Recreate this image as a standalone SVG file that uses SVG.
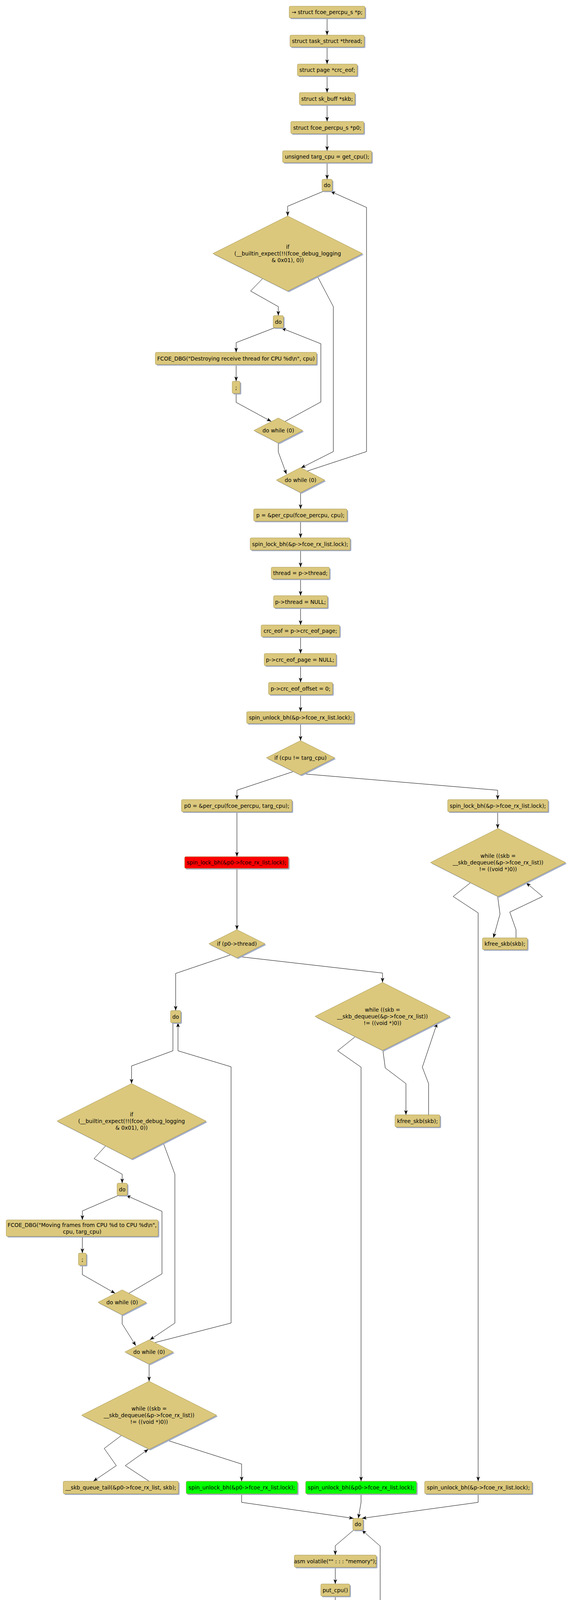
<svg xmlns="http://www.w3.org/2000/svg" width="1468" height="4627" viewBox="0 0 1468 4627">
<defs>
<style>
.b{fill:#dbc87d;stroke:#a8974f;stroke-width:1}
.r{fill:#ff0000;stroke:#a8974f;stroke-width:1}
.g{fill:#00ff00;stroke:#a8974f;stroke-width:1}
.s{fill:#a3adc8;stroke:none}
text{font-family:"DejaVu Sans","Liberation Sans",sans-serif;font-size:13.7px;text-anchor:middle;fill:#000}
#edges polyline{fill:none;stroke:#000;stroke-width:1;marker-end:url(#a)}
</style>
<marker id="a" markerUnits="userSpaceOnUse" markerWidth="13" markerHeight="10" refX="12" refY="4.5" orient="auto"><path d="M0,0 L12,4.5 L0,9 L3,4.5 z" fill="#000"/></marker>
</defs>
<rect width="1468" height="4627" fill="#fff"/>
<g id="edges">
<polyline points="838,46 838,90"/>
<polyline points="838,120 838,164"/>
<polyline points="838,194 838,237"/>
<polyline points="838,268 838,311"/>
<polyline points="838,342 838,386"/>
<polyline points="838,416 838,459"/>
<polyline points="830,489 737,528 737,553"/>
<polyline points="673,713 642,745 713,785 713,808"/>
<polyline points="704,839 605,877 605,902"/>
<polyline points="605,933 605,976"/>
<polyline points="605,1007 605,1030 695,1079"/>
<polyline points="730,1079 822,1029 822,880 721,840"/>
<polyline points="713,1134 713,1157 734,1214"/>
<polyline points="813,707 854,785 854,1156 771,1198"/>
<polyline points="787,1206 939,1156 939,531 847,490"/>
<polyline points="770,1261 770,1303"/>
<polyline points="770,1334 770,1377"/>
<polyline points="770,1408 770,1452"/>
<polyline points="770,1482 770,1525"/>
<polyline points="770,1556 770,1600"/>
<polyline points="770,1630 770,1673"/>
<polyline points="770,1704 770,1747"/>
<polyline points="770,1778 770,1822"/>
<polyline points="770,1852 770,1896"/>
<polyline points="752,1975 607,2023 607,2047"/>
<polyline points="777,1981 1275,2023 1275,2047"/>
<polyline points="607,2078 607,2193"/>
<polyline points="607,2223 607,2380"/>
<polyline points="1275,2078 1275,2121"/>
<polyline points="1275,2295 1281,2340 1264,2401"/>
<polyline points="1322,2401 1322,2380 1306,2335 1390,2295 1348,2260"/>
<polyline points="1205,2260 1161,2295 1225,2337 1225,3792"/>
<polyline points="592,2444 450,2492 450,2587"/>
<polyline points="613,2449 980,2491 980,2515"/>
<polyline points="981,2689 987,2734 1040,2774 1040,2854"/>
<polyline points="1098,2854 1098,2774 1082,2732 1120,2619"/>
<polyline points="910,2654 865,2690 925,2732 925,3792"/>
<polyline points="443,2618 443,2690 337,2729 337,2774"/>
<polyline points="271,2933 241,2966 313,3006 313,3029"/>
<polyline points="418,2925 448,3006 448,3387 384,3430"/>
<polyline points="304,3060 211,3100 211,3123"/>
<polyline points="211,3165 211,3208"/>
<polyline points="211,3239 211,3263 295,3311"/>
<polyline points="330,3311 415,3261 415,3101 323,3060"/>
<polyline points="313,3366 313,3389 348,3445"/>
<polyline points="397,3437 592,3387 592,2731 456,2690 456,2618"/>
<polyline points="382,3492 382,3536"/>
<polyline points="312,3674 267,3708 298,3752 239,3792"/>
<polyline points="382,3792 321,3752 380,3710"/>
<polyline points="428,3687 619,3748 619,3792"/>
<polyline points="619,3824 619,3846 906,3887"/>
<polyline points="925,3824 925,3846 918,3887"/>
<polyline points="1225,3824 1225,3846 927,3887"/>
<polyline points="906,3917 859,3957 859,3981"/>
<polyline points="859,4012 859,4055"/>
<polyline points="859,4086 859,4109 889,4163"/>
<polyline points="941,4162 974,4108 974,3958 927,3917"/>
<polyline points="916,4213 916,4257"/>
<polyline points="894,4302 864,4352 864,4376"/>
<polyline points="939,4301 968,4353 968,4428 945,4485"/>
<polyline points="864,4407 864,4430 889,4485"/>
<polyline points="916,4538 916,4581"/>
</g>
<g id="n1"><rect class="s" x="744" y="19" width="194" height="30" rx="3"/><rect class="b" x="741" y="16" width="194" height="30" rx="3"/><text x="838" y="36">→ struct fcoe_percpu_s *p;</text></g>
<g id="n2"><rect class="s" x="746" y="93" width="190" height="30" rx="3"/><rect class="b" x="743" y="90" width="190" height="30" rx="3"/><text x="838" y="110">struct task_struct *thread;</text></g>
<g id="n3"><rect class="s" x="765" y="167" width="153" height="30" rx="3"/><rect class="b" x="762" y="164" width="153" height="30" rx="3"/><text x="838.5" y="184">struct page *crc_eof;</text></g>
<g id="n4"><rect class="s" x="770" y="240" width="142" height="31" rx="3"/><rect class="b" x="767" y="237" width="142" height="31" rx="3"/><text x="838" y="257.5">struct sk_buff *skb;</text></g>
<g id="n5"><rect class="s" x="748" y="314" width="187" height="31" rx="3"/><rect class="b" x="745" y="311" width="187" height="31" rx="3"/><text x="838.5" y="331.5">struct fcoe_percpu_s *p0;</text></g>
<g id="n6"><rect class="s" x="727" y="389" width="228" height="30" rx="3"/><rect class="b" x="724" y="386" width="228" height="30" rx="3"/><text x="838" y="406">unsigned targ_cpu = get_cpu();</text></g>
<g id="n7"><rect class="s" x="828" y="462" width="26" height="30" rx="3"/><rect class="b" x="825" y="459" width="26" height="30" rx="3"/><text x="838" y="479">do</text></g>
<g id="n8"><polygon class="s" points="740,556 931.5,652 740,748 548.5,652"/><polygon class="b" points="737,553 928.5,649 737,745 545.5,649"/><text x="737" y="637">if</text><text x="737" y="654">(__builtin_expect(!!(fcoe_debug_logging</text><text x="737" y="671">&amp; 0x01), 0))</text></g>
<g id="n9"><rect class="s" x="703" y="811" width="26" height="31" rx="3"/><rect class="b" x="700" y="808" width="26" height="31" rx="3"/><text x="713" y="828.5">do</text></g>
<g id="n10"><rect class="s" x="401" y="905" width="413" height="31" rx="3"/><rect class="b" x="398" y="902" width="413" height="31" rx="3"/><text x="604.5" y="922.5">FCOE_DBG("Destroying receive thread for CPU %d\n", cpu)</text></g>
<g id="n11"><rect class="s" x="598" y="979" width="20" height="31" rx="3"/><rect class="b" x="595" y="976" width="20" height="31" rx="3"/><text x="605" y="996.5">;</text></g>
<g id="n12"><polygon class="s" points="716,1073 778.5,1105 716,1137 653.5,1105"/><polygon class="b" points="713,1070 775.5,1102 713,1134 650.5,1102"/><text x="713" y="1107">do while (0)</text></g>
<g id="n13"><polygon class="s" points="773,1200 835,1232 773,1264 711,1232"/><polygon class="b" points="770,1197 832,1229 770,1261 708,1229"/><text x="770" y="1234">do while (0)</text></g>
<g id="n14"><rect class="s" x="653" y="1306" width="239" height="31" rx="3"/><rect class="b" x="650" y="1303" width="239" height="31" rx="3"/><text x="769.5" y="1323.5">p = &amp;per_cpu(fcoe_percpu, cpu);</text></g>
<g id="n15"><rect class="s" x="644" y="1380" width="256" height="31" rx="3"/><rect class="b" x="641" y="1377" width="256" height="31" rx="3"/><text x="769" y="1397.5">spin_lock_bh(&amp;p-&gt;fcoe_rx_list.lock);</text></g>
<g id="n16"><rect class="s" x="698" y="1455" width="149" height="30" rx="3"/><rect class="b" x="695" y="1452" width="149" height="30" rx="3"/><text x="769.5" y="1472">thread = p-&gt;thread;</text></g>
<g id="n17"><rect class="s" x="704" y="1528" width="138" height="31" rx="3"/><rect class="b" x="701" y="1525" width="138" height="31" rx="3"/><text x="770" y="1545.5">p-&gt;thread = NULL;</text></g>
<g id="n18"><rect class="s" x="672" y="1603" width="201" height="30" rx="3"/><rect class="b" x="669" y="1600" width="201" height="30" rx="3"/><text x="769.5" y="1620">crc_eof = p-&gt;crc_eof_page;</text></g>
<g id="n19"><rect class="s" x="680" y="1676" width="184" height="31" rx="3"/><rect class="b" x="677" y="1673" width="184" height="31" rx="3"/><text x="769" y="1693.5">p-&gt;crc_eof_page = NULL;</text></g>
<g id="n20"><rect class="s" x="691" y="1750" width="164" height="31" rx="3"/><rect class="b" x="688" y="1747" width="164" height="31" rx="3"/><text x="770" y="1767.5">p-&gt;crc_eof_offset = 0;</text></g>
<g id="n21"><rect class="s" x="635" y="1825" width="275" height="30" rx="3"/><rect class="b" x="632" y="1822" width="275" height="30" rx="3"/><text x="769.5" y="1842">spin_unlock_bh(&amp;p-&gt;fcoe_rx_list.lock);</text></g>
<g id="n22"><polygon class="s" points="773,1899 860.5,1943 773,1987 685.5,1943"/><polygon class="b" points="770,1896 857.5,1940 770,1984 682.5,1940"/><text x="770" y="1945">if (cpu != targ_cpu)</text></g>
<g id="n23"><rect class="s" x="468" y="2050" width="283" height="31" rx="3"/><rect class="b" x="465" y="2047" width="283" height="31" rx="3"/><text x="606.5" y="2067.5">p0 = &amp;per_cpu(fcoe_percpu, targ_cpu);</text></g>
<g id="n24"><rect class="s" x="1150" y="2050" width="257" height="31" rx="3"/><rect class="b" x="1147" y="2047" width="257" height="31" rx="3"/><text x="1275.5" y="2067.5">spin_lock_bh(&amp;p-&gt;fcoe_rx_list.lock);</text></g>
<g id="n25"><rect class="s" x="476" y="2196" width="266" height="30" rx="3"/><rect class="r" x="473" y="2193" width="266" height="30" rx="3"/><text x="606" y="2213">spin_lock_bh(&amp;p0-&gt;fcoe_rx_list.lock);</text></g>
<g id="n26"><polygon class="s" points="1279,2124 1452,2211 1279,2298 1106,2211"/><polygon class="b" points="1276,2121 1449,2208 1276,2295 1103,2208"/><text x="1276" y="2196">while ((skb =</text><text x="1276" y="2213">__skb_dequeue(&amp;p-&gt;fcoe_rx_list))</text><text x="1276" y="2230">!= ((void *)0))</text></g>
<g id="n27"><rect class="s" x="1239" y="2404" width="115" height="30" rx="3"/><rect class="b" x="1236" y="2401" width="115" height="30" rx="3"/><text x="1293.5" y="2421">kfree_skb(skb);</text></g>
<g id="n28"><polygon class="s" points="610,2383 682,2419 610,2455 538,2419"/><polygon class="b" points="607,2380 679,2416 607,2452 535,2416"/><text x="607" y="2421">if (p0-&gt;thread)</text></g>
<g id="n29"><polygon class="s" points="983,2518 1156,2605 983,2692 810,2605"/><polygon class="b" points="980,2515 1153,2602 980,2689 807,2602"/><text x="980" y="2590">while ((skb =</text><text x="980" y="2607">__skb_dequeue(&amp;p-&gt;fcoe_rx_list))</text><text x="980" y="2624">!= ((void *)0))</text></g>
<g id="n30"><rect class="s" x="440" y="2590" width="26" height="31" rx="3"/><rect class="b" x="437" y="2587" width="26" height="31" rx="3"/><text x="450" y="2607.5">do</text></g>
<g id="n31"><rect class="s" x="1015" y="2857" width="115" height="31" rx="3"/><rect class="b" x="1012" y="2854" width="115" height="31" rx="3"/><text x="1069.5" y="2874.5">kfree_skb(skb);</text></g>
<g id="n32"><polygon class="s" points="340,2777 531,2873 340,2970 149,2873"/><polygon class="b" points="337,2774 528,2870 337,2967 146,2870"/><text x="337" y="2858">if</text><text x="337" y="2875">(__builtin_expect(!!(fcoe_debug_logging</text><text x="337" y="2892">&amp; 0x01), 0))</text></g>
<g id="n33"><rect class="s" x="303" y="3032" width="26" height="31" rx="3"/><rect class="b" x="300" y="3029" width="26" height="31" rx="3"/><text x="313" y="3049.5">do</text></g>
<g id="n34"><rect class="s" x="19" y="3126" width="389" height="42" rx="3"/><rect class="b" x="16" y="3123" width="389" height="42" rx="3"/><text x="210.5" y="3141">FCOE_DBG("Moving frames from CPU %d to CPU %d\n",</text><text x="210.5" y="3158">cpu, targ_cpu)</text></g>
<g id="n35"><rect class="s" x="204" y="3211" width="20" height="31" rx="3"/><rect class="b" x="201" y="3208" width="20" height="31" rx="3"/><text x="211" y="3228.5">;</text></g>
<g id="n36"><polygon class="s" points="316,3305 378,3337 316,3369 254,3337"/><polygon class="b" points="313,3302 375,3334 313,3366 251,3334"/><text x="313" y="3339">do while (0)</text></g>
<g id="n37"><polygon class="s" points="385,3433 447,3464 385,3495 323,3464"/><polygon class="b" points="382,3430 444,3461 382,3492 320,3461"/><text x="382" y="3466">do while (0)</text></g>
<g id="n38"><polygon class="s" points="385,3539 558,3626 385,3713 212,3626"/><polygon class="b" points="382,3536 555,3623 382,3710 209,3623"/><text x="382" y="3611">while ((skb =</text><text x="382" y="3628">__skb_dequeue(&amp;p-&gt;fcoe_rx_list))</text><text x="382" y="3645">!= ((void *)0))</text></g>
<g id="n39"><rect class="s" x="165" y="3795" width="295" height="32" rx="3"/><rect class="b" x="162" y="3792" width="295" height="32" rx="3"/><text x="309.5" y="3813">__skb_queue_tail(&amp;p0-&gt;fcoe_rx_list, skb);</text></g>
<g id="n40"><rect class="s" x="480" y="3795" width="285" height="32" rx="3"/><rect class="g" x="477" y="3792" width="285" height="32" rx="3"/><text x="619.5" y="3813">spin_unlock_bh(&amp;p0-&gt;fcoe_rx_list.lock);</text></g>
<g id="n41"><rect class="s" x="786" y="3795" width="284" height="32" rx="3"/><rect class="g" x="783" y="3792" width="284" height="32" rx="3"/><text x="925" y="3813">spin_unlock_bh(&amp;p0-&gt;fcoe_rx_list.lock);</text></g>
<g id="n42"><rect class="s" x="1091" y="3795" width="275" height="32" rx="3"/><rect class="b" x="1088" y="3792" width="275" height="32" rx="3"/><text x="1225.5" y="3813">spin_unlock_bh(&amp;p-&gt;fcoe_rx_list.lock);</text></g>
<g id="n43"><rect class="s" x="907" y="3890" width="26" height="30" rx="3"/><rect class="b" x="904" y="3887" width="26" height="30" rx="3"/><text x="917" y="3907">do</text></g>
<g id="n44"><rect class="s" x="757" y="3984" width="210" height="31" rx="3"/><rect class="b" x="754" y="3981" width="210" height="31" rx="3"/><text x="859" y="4001.5">asm volatile("" : : : "memory");</text></g>
<g id="n45"><rect class="s" x="825" y="4058" width="74" height="31" rx="3"/><rect class="b" x="822" y="4055" width="74" height="31" rx="3"/><text x="859" y="4075.5">put_cpu()</text></g>
<g id="n46"><polygon class="s" points="919,4152 981,4184 919,4216 857,4184"/><polygon class="b" points="916,4149 978,4181 916,4213 854,4181"/><text x="916" y="4186">do while (0)</text></g>
<g id="n47"><polygon class="s" points="919,4260 973.5,4288 919,4316 864.5,4288"/><polygon class="b" points="916,4257 970.5,4285 916,4313 861.5,4285"/><text x="916" y="4290">if (thread)</text></g>
<g id="n48"><rect class="s" x="788" y="4379" width="159" height="31" rx="3"/><rect class="b" x="785" y="4376" width="159" height="31" rx="3"/><text x="864.5" y="4396.5">kthread_stop(thread);</text></g>
<g id="n49"><polygon class="s" points="919,4473 984.5,4507 919,4541 853.5,4507"/><polygon class="b" points="916,4470 981.5,4504 916,4538 850.5,4504"/><text x="916" y="4509">if (crc_eof) →</text></g>
<g id="n50"><rect class="s" x="843" y="4584" width="154" height="31" rx="3"/><rect class="b" x="840" y="4581" width="154" height="31" rx="3"/><text x="917" y="4601.5">put_page(crc_eof); →</text></g>
</svg>
